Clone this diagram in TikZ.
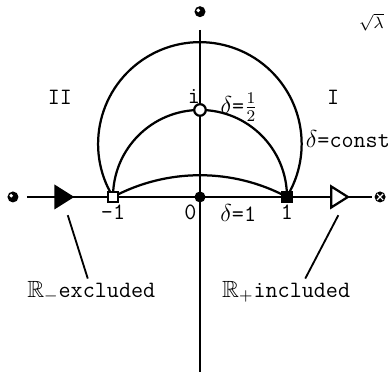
\documentclass[tikz,border=0pt]{standalone}
\usepackage{amsmath}
\usepackage{amssymb}
\usetikzlibrary{positioning}
\tikzset{
    curva/.style={line width=1.1pt},
    eje/.style={line width=1.1pt},
    punto_lleno/.style={circle, fill=black, inner sep=0pt, minimum size=0.19cm},
    punto_vacio/.style={circle, draw, fill=white, line width=1.1pt, inner sep=0pt, minimum size=0.2cm},
    cuadro_lleno/.style={rectangle, fill=black, inner sep=0pt, minimum size=0.21cm},
    cuadro_vacio/.style={rectangle, draw, fill=white, line width=1.1pt, inner sep=0pt, minimum size=0.18cm},
    extremo/.style={circle, fill=black, inner sep=0pt, minimum size=0.19cm},
    etiqueta/.style={font=\fontsize{11.5}{13}\selectfont\ttfamily, inner sep=1pt}
}
\begin{document}
\begin{tikzpicture}[x=1.5cm, y=1.5cm]
    \useasboundingbox (-2.299,-2.069) rectangle (2.184,2.264);

    % extremos de los ejes
    \node[extremo] (arriba) at (0,2.13) {};
    \node[extremo] (izq) at (-2.15,0) {};
    \node[extremo] (der) at (2.07,0) {};
    \fill[white] ([shift={(-0.02,0.015)}]arriba.center) circle (0.022);
    \fill[white] ([shift={(-0.02,0.015)}]izq.center) circle (0.022);
    \draw[white, line width=0.6pt] ([shift={(-0.035,-0.035)}]der.center) -- ([shift={(0.035,0.035)}]der.center)
        ([shift={(-0.035,0.035)}]der.center) -- ([shift={(0.035,-0.035)}]der.center);
    \coordinate (eje_arriba) at (0,1.92);
    \coordinate (eje_abajo) at (0,-2.01);
    \coordinate (eje_izq) at (-1.99,0);
    \coordinate (eje_der) at (1.98,0);

    % ejes
    \draw[eje] (eje_arriba) -- (eje_abajo);
    \draw[eje] (eje_izq) -- (eje_der);

    % puntos
    \coordinate (m1) at (-1,0);
    \coordinate (p1) at (1,0);

    % curvas delta = const
    \draw[curva] (m1) arc[start angle=211.4, end angle=-31.4, radius=1.17];
    \draw[curva] (m1) arc[start angle=180, end angle=0, radius=1];
    \draw[curva] (m1) arc[start angle=118.07, end angle=61.93, radius=2.125];

    % flechas sobre el eje real
    \filldraw[line width=1.1pt, line join=miter] (-1.66,0.12) -- (-1.47,0) -- (-1.66,-0.12) -- cycle;
    \draw[line width=1.1pt, fill=white, line join=miter] (1.51,0.12) -- (1.70,0) -- (1.51,-0.12) -- cycle;

    % marcas
    \node[cuadro_vacio] (menos_uno) at (m1) {};
    \node[punto_lleno] (cero) at (0,0) {};
    \node[cuadro_lleno] (uno) at (p1) {};
    \node[punto_vacio] (im) at (0,1) {};

    % etiquetas
    \node[etiqueta] (lm1) at (-1.0,-0.18) {-1};
    \node[etiqueta] (l0) at (-0.11,-0.18) {0};
    \node[etiqueta] (ld1) at (0.44,-0.18) {$\delta$=1};
    \node[etiqueta] (l1) at (1.0,-0.18) {1};
    \node[etiqueta] (li) at (-0.07,1.15) {i};
    \node[etiqueta] (ldm) at (0.45,1.03) {$\delta$=$\frac{1}{2}$};
    \node[etiqueta] (ldc) at (1.70,0.66) {$\delta$=const};
    \node[etiqueta] (lII) at (-1.61,1.15) {II};
    \node[etiqueta] (lI) at (1.53,1.15) {I};
    \node[inner sep=1pt, font=\footnotesize] (lam) at (1.97,2.01) {$\sqrt{\lambda}$};

    \node[etiqueta] (excl) at (-1.25,-1.09) {$\mathbb{R}_-$excluded};
    \node[etiqueta] (incl) at (0.99,-1.09) {$\mathbb{R}_+$included};
    \coordinate (f_izq) at (-1.52,-0.21);
    \coordinate (f_der) at (1.59,-0.21);
    \draw[curva, line width=0.9pt] (f_izq) -- (excl.north -| -1.29,0);
    \draw[curva, line width=0.9pt] (f_der) -- (incl.north -| 1.21,0);
\end{tikzpicture}
\end{document}
